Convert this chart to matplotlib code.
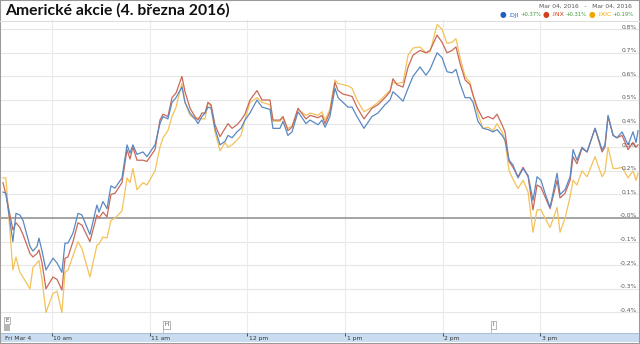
import numpy as np
import matplotlib.pyplot as plt
from matplotlib.offsetbox import TextArea, HPacker, AnchoredOffsetbox
from matplotlib.patches import Rectangle
import matplotlib.transforms as mtransforms

# minutes since the 9:30 open, and % change for each index
minutes = [0, 1.8, 6.1, 8.0, 10.4, 12.3, 16.6, 18.4, 20.9, 22.1,
           24.0, 26.4, 30.7, 33.2, 36.2, 38.1, 39.9, 43.0, 46.1, 48.5,
           53.4, 57.7, 59.0, 61.4, 63.9, 66.3, 68.8, 73.1, 76.2, 78.0,
           79.8, 82.3, 86.0, 88.4, 93.4, 96.4, 98.3, 101.3, 103.8, 106.3,
           109.9, 111.8, 114.9, 117.9, 119.8, 122.2, 124.1, 125.9, 127.8, 130.2,
           133.3, 136.4, 138.2, 140.7, 143.7, 146.2, 148.6, 151.7, 156.0, 159.1,
           164.0, 165.8, 170.1, 172.0, 175.0, 177.5, 181.2, 186.1, 188.6, 193.5,
           195.9, 197.8, 200.8, 203.9, 205.8, 208.8, 211.9, 214.4, 217.4, 221.7,
           226.6, 230.3, 234.6, 237.7, 239.5, 242.0, 245.7, 248.8, 251.8, 256.1,
           259.8, 262.3, 266.6, 269.6, 272.7, 275.8, 278.2, 280.7, 283.8, 286.8,
           288.7, 291.7, 294.8, 297.9, 301.0, 303.4, 306.5, 308.3, 310.8, 313.2,
           316.3, 319.4, 322.5, 325.5, 328.0, 330.4, 332.9, 336.0, 340.3, 342.1,
           345.2, 348.3, 350.1, 352.5, 355.6, 358.7, 363.6, 367.9, 369.7, 371.6,
           374.7, 377.1, 380.2, 383.9, 386.9, 388.8, 390.0]

dji = [0.11, 0.105, -0.10, 0.02, 0.013, -0.01, -0.12, -0.14, -0.12, -0.085,
       -0.14, -0.22, -0.17, -0.19, -0.23, -0.106, -0.106, -0.064, 0.02, 0.013,
       -0.07, 0.055, 0.025, 0.07, 0.04, 0.136, 0.127, 0.17, 0.31, 0.275,
       0.31, 0.27, 0.28, 0.26, 0.31, 0.40, 0.43, 0.42, 0.49, 0.51,
       0.555, 0.49, 0.445, 0.42, 0.40, 0.43, 0.445, 0.47, 0.465, 0.38,
       0.31, 0.325, 0.35, 0.34, 0.365, 0.38, 0.415, 0.445, 0.50, 0.47,
       0.46, 0.38, 0.38, 0.41, 0.35, 0.365, 0.45, 0.40, 0.415, 0.395,
       0.415, 0.385, 0.43, 0.55, 0.51, 0.49, 0.47, 0.47, 0.43, 0.38,
       0.43, 0.445, 0.48, 0.50, 0.535, 0.52, 0.495, 0.55, 0.60, 0.64,
       0.605, 0.63, 0.70, 0.68, 0.62, 0.615, 0.63, 0.57, 0.51, 0.51,
       0.49, 0.41, 0.38, 0.375, 0.365, 0.375, 0.35, 0.33, 0.245, 0.225,
       0.17, 0.21, 0.18, 0.075, 0.175, 0.16, 0.105, 0.045, 0.19, 0.10,
       0.12, 0.175, 0.29, 0.245, 0.30, 0.28, 0.38, 0.29, 0.31, 0.435,
       0.35, 0.34, 0.365, 0.31, 0.365, 0.32, 0.37]

inx = [0.15, 0.10, -0.05, -0.02, -0.04, -0.07, -0.15, -0.165, -0.15, -0.135,
       -0.19, -0.30, -0.25, -0.26, -0.305, -0.17, -0.165, -0.10, -0.02, -0.03,
       -0.10, 0.013, 0.0, 0.025, 0.005, 0.10, 0.105, 0.15, 0.29, 0.25,
       0.30, 0.245, 0.245, 0.24, 0.29, 0.415, 0.44, 0.43, 0.51, 0.53,
       0.60, 0.535, 0.465, 0.43, 0.415, 0.445, 0.445, 0.49, 0.48, 0.395,
       0.345, 0.38, 0.40, 0.38, 0.395, 0.415, 0.44, 0.50, 0.54, 0.50,
       0.50, 0.415, 0.415, 0.43, 0.37, 0.385, 0.465, 0.42, 0.435, 0.425,
       0.435, 0.40, 0.45, 0.575, 0.54, 0.525, 0.52, 0.515, 0.47, 0.42,
       0.465, 0.48, 0.51, 0.535, 0.59, 0.565, 0.555, 0.64, 0.69, 0.71,
       0.70, 0.71, 0.775, 0.745, 0.70, 0.71, 0.725, 0.655, 0.585, 0.565,
       0.52, 0.46, 0.42, 0.43, 0.42, 0.44, 0.395, 0.365, 0.24, 0.215,
       0.175, 0.215, 0.175, 0.035, 0.14, 0.13, 0.09, 0.04, 0.16, 0.085,
       0.105, 0.16, 0.26, 0.23, 0.295, 0.28, 0.38, 0.28, 0.30, 0.43,
       0.35, 0.34, 0.35, 0.29, 0.32, 0.30, 0.31]

ixic = [0.17, 0.17, -0.22, -0.165, -0.23, -0.25, -0.30, -0.21, -0.19, -0.18,
        -0.26, -0.40, -0.32, -0.31, -0.40, -0.23, -0.22, -0.16, -0.10, -0.13,
        -0.25, -0.115, -0.11, -0.08, -0.085, -0.01, 0.0, 0.03, 0.17, 0.15,
        0.21, 0.12, 0.15, 0.14, 0.20, 0.30, 0.34, 0.37, 0.43, 0.47,
        0.57, 0.49, 0.435, 0.42, 0.425, 0.42, 0.42, 0.49, 0.47, 0.365,
        0.285, 0.32, 0.30, 0.31, 0.33, 0.35, 0.415, 0.49, 0.51, 0.49,
        0.48, 0.41, 0.41, 0.425, 0.38, 0.39, 0.46, 0.435, 0.445, 0.435,
        0.45, 0.415, 0.46, 0.585, 0.57, 0.565, 0.56, 0.55, 0.50, 0.45,
        0.47, 0.49, 0.52, 0.54, 0.575, 0.57, 0.575, 0.69, 0.72, 0.725,
        0.70, 0.705, 0.82, 0.80, 0.74, 0.745, 0.76, 0.68, 0.60, 0.575,
        0.52, 0.44, 0.38, 0.385, 0.37, 0.40, 0.365, 0.33, 0.20, 0.165,
        0.125, 0.16, 0.11, -0.06, 0.035, 0.035, 0.0, -0.04, 0.045, -0.06,
        0.0, 0.09, 0.16, 0.14, 0.20, 0.175, 0.26, 0.175, 0.195, 0.30,
        0.21, 0.21, 0.215, 0.17, 0.20, 0.16, 0.19]

hour_ticks = [0, 30, 90, 150, 210, 270, 330]
hour_labels = ['Fri Mar 4', '10 am', '11 am', '12 pm', '1 pm', '2 pm', '3 pm']
pct_ticks = np.round(np.arange(-0.4, 0.81, 0.1), 1)

flag_letters = ['E', 'H', 'I']
flag_minutes = [0.6, 98.5, 300.0]

names = ['.DJI', '.INX', '.IXIC']
changes = ['+0.37%', '+0.31%', '+0.19%']
line_colors = ['#5a88c2', '#c9695a', '#f3c25a']
dot_colors = ['#1f5fbf', '#d2401f', '#f0a400']

W, H = 640, 344
fig = plt.figure(figsize=(W / 100, H / 100), dpi=100)
fig.patch.set_facecolor('white')

# main plot area, pixel rows 20..333
ax = fig.add_axes([1 / W, 11 / H, 638 / W, 313 / H])
ax.set_xlim(-1.2, 390.6)
ax.set_ylim(-0.487, 0.839)
for s in ax.spines.values():
    s.set_visible(False)
ax.set_xticks([])
ax.set_yticks([])

for v in pct_ticks:
    if v == 0:
        ax.axhline(0, color='#8c8c8c', lw=1.1, zorder=1)
    else:
        ax.axhline(v, color='#e6e6e6', lw=0.8, zorder=0)
for t in hour_ticks[1:]:
    ax.axvline(t, color='#ececec', lw=0.8, zorder=0)

ax.plot(minutes, ixic, color=line_colors[2], lw=0.9, zorder=2)
ax.plot(minutes, inx, color=line_colors[1], lw=0.9, zorder=3)
ax.plot(minutes, dji, color=line_colors[0], lw=0.9, zorder=4)

trans = mtransforms.blended_transform_factory(ax.transAxes, ax.transData)
for v in pct_ticks:
    ax.text(0.997, v + 0.009, '%.1f%%' % v, transform=trans, ha='right',
            va='center', fontsize=4.3, color='#555555', zorder=5)

# news flags below the lines
ftrans = mtransforms.blended_transform_factory(ax.transData, ax.transAxes)
for letter, m in zip(flag_letters, flag_minutes):
    fy = 0.04 if letter == 'E' else 0.026
    ax.text(m + 0.8, fy, letter, transform=ftrans,
            ha='left', va='center', fontsize=4, color='#444444',
            bbox=dict(boxstyle='square,pad=0.25', fc='white', ec='#999999', lw=0.5))
    if letter != 'E':
        ax.plot([m, m], [0.0, 0.026], transform=ftrans, color='#aaaaaa', lw=0.5)
ax.add_patch(Rectangle((0.6, 0.006), 3.6, 0.018, transform=ftrans,
                       fc='#b5b5b5', ec='none'))

# time strip
strip = fig.add_axes([1 / W, 2 / H, 638 / W, 9 / H])
strip.set_facecolor('#c9dcf0')
strip.set_xlim(ax.get_xlim())
strip.set_ylim(0, 1)
strip.set_xticks([])
strip.set_yticks([])
for s in strip.spines.values():
    s.set_visible(False)
strip.axhline(1, color='#a9c0da', lw=0.8)
for t, lab in zip(hour_ticks, hour_labels):
    if t > 0:
        strip.vlines(t, 0.7, 1.0, color='#333333', lw=0.6)
    strip.text(t + 1.0, 0.42, lab, ha='left', va='center', fontsize=4.3,
               color='#333333')

# header
fig.text(5 / W, 1 - 10.5 / H, 'Americké akcie (4. března 2016)', ha='left',
         va='center', fontsize=11.3, fontweight='bold', family='Lato',
         color='#111111')
fig.add_artist(plt.Line2D([0, 1], [1 - 20.5 / H, 1 - 20.5 / H],
                          transform=fig.transFigure, color='#dddddd', lw=0.8))
fig.text(632 / W, 1 - 6 / H, 'Mar 04, 2016   -   Mar 04, 2016', ha='right',
         va='center', fontsize=4.3, color='#555555')

parts = []
for name, chg, dc in zip(names, changes, dot_colors):
    parts.append(TextArea('●', textprops=dict(color=dc, fontsize=5.5)))
    parts.append(TextArea(name, textprops=dict(color=dc, fontsize=4.5)))
    parts.append(TextArea(chg, textprops=dict(color='#3c9a3c', fontsize=3.8)))
legend = HPacker(children=parts, align='center', pad=0, sep=1.2)
box = AnchoredOffsetbox(loc='center right', child=legend, pad=0, borderpad=0,
                        frameon=False, bbox_to_anchor=(634 / W, 1 - 15 / H),
                        bbox_transform=fig.transFigure)
fig.add_artist(box)

fig.add_artist(Rectangle((0, 0), 1, 1, transform=fig.transFigure, fill=False,
                         ec='#9a9a9a', lw=1.5))

fig.savefig('out.png', dpi=100)
